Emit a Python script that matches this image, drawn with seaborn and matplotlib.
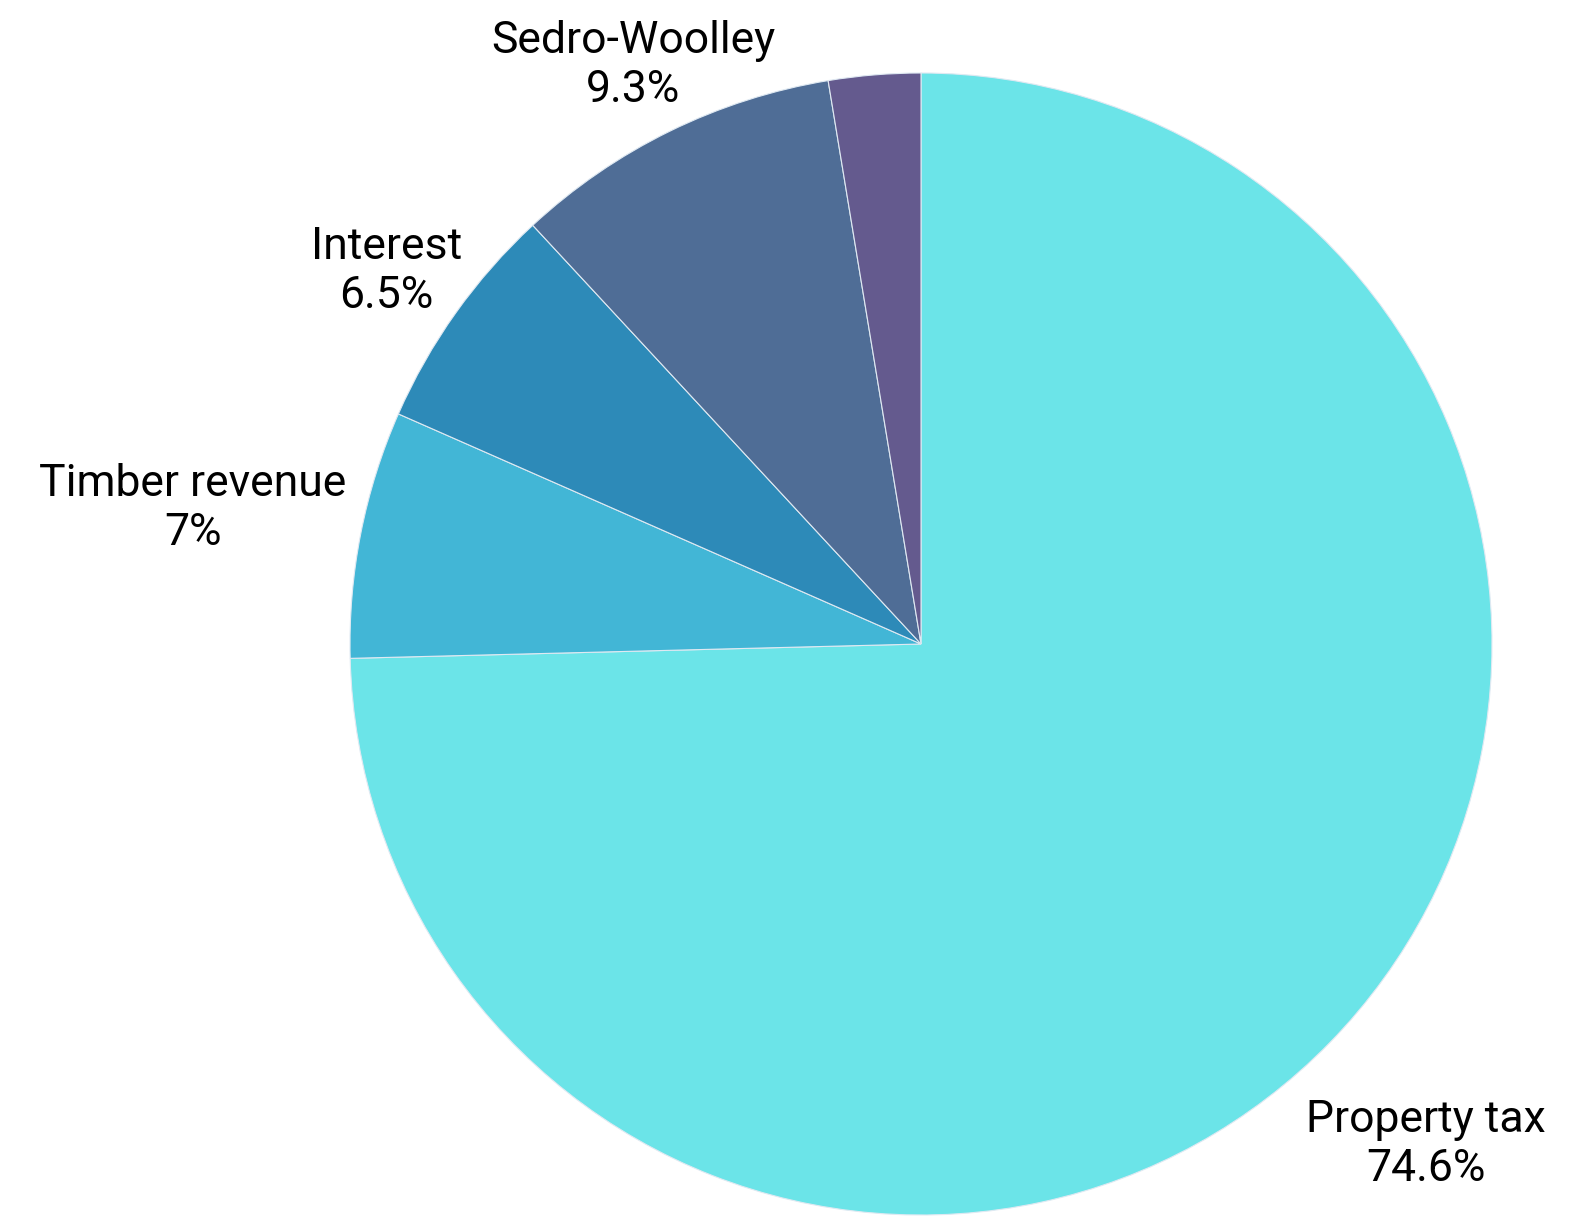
import numpy as np
import seaborn as sns
import matplotlib.pyplot as plt
import matplotlib.transforms as mtransforms

# -----------------------------
# Data
# -----------------------------
categories = ["Property tax", "Timber revenue", "Interest", "Sedro-Woolley", "Other"]
shares = [74.6, 7.0, 6.5, 9.3, 2.6]
share_labels = ["74.6%", "7%", "6.5%", "9.3%", ""]
show_label = [True, True, True, True, False]
colors = ["#6be4e8", "#42b6d6", "#2d8ab8", "#4f6d96", "#645a8e"]
label_dist = [1.235, 1.30, 1.15, 1.145, 1.1]

sns.set_style("white")
plt.rcParams["font.family"] = ["Roboto", "DejaVu Sans"]

fig = plt.figure(figsize=(15.78, 12.17), dpi=100)
ax = fig.add_axes([350 / 1578, 2 / 1217, 1142 / 1578, 1142 / 1217])

wedges, _ = ax.pie(shares, colors=colors, startangle=90, counterclock=False,
                   wedgeprops=dict(edgecolor="#dfe9f2", linewidth=0.8))
ax.set_xlim(-1, 1)
ax.set_ylim(-1, 1)
ax.set_aspect("equal")
ax.axis("off")

# labels sit a little below the plain radial point
shift = mtransforms.offset_copy(ax.transData, fig=fig, x=0, y=-6, units="points")
for w, cat, lab, show, d in zip(wedges, categories, share_labels, show_label, label_dist):
    if not show:
        continue
    mid = np.deg2rad((w.theta1 + w.theta2) / 2)
    ax.text(d * np.cos(mid), d * np.sin(mid), f"{cat}\n{lab}", transform=shift,
            ha="center", va="center", fontsize=32, linespacing=1.2, color="black")

fig.savefig("out.png", dpi=100)
